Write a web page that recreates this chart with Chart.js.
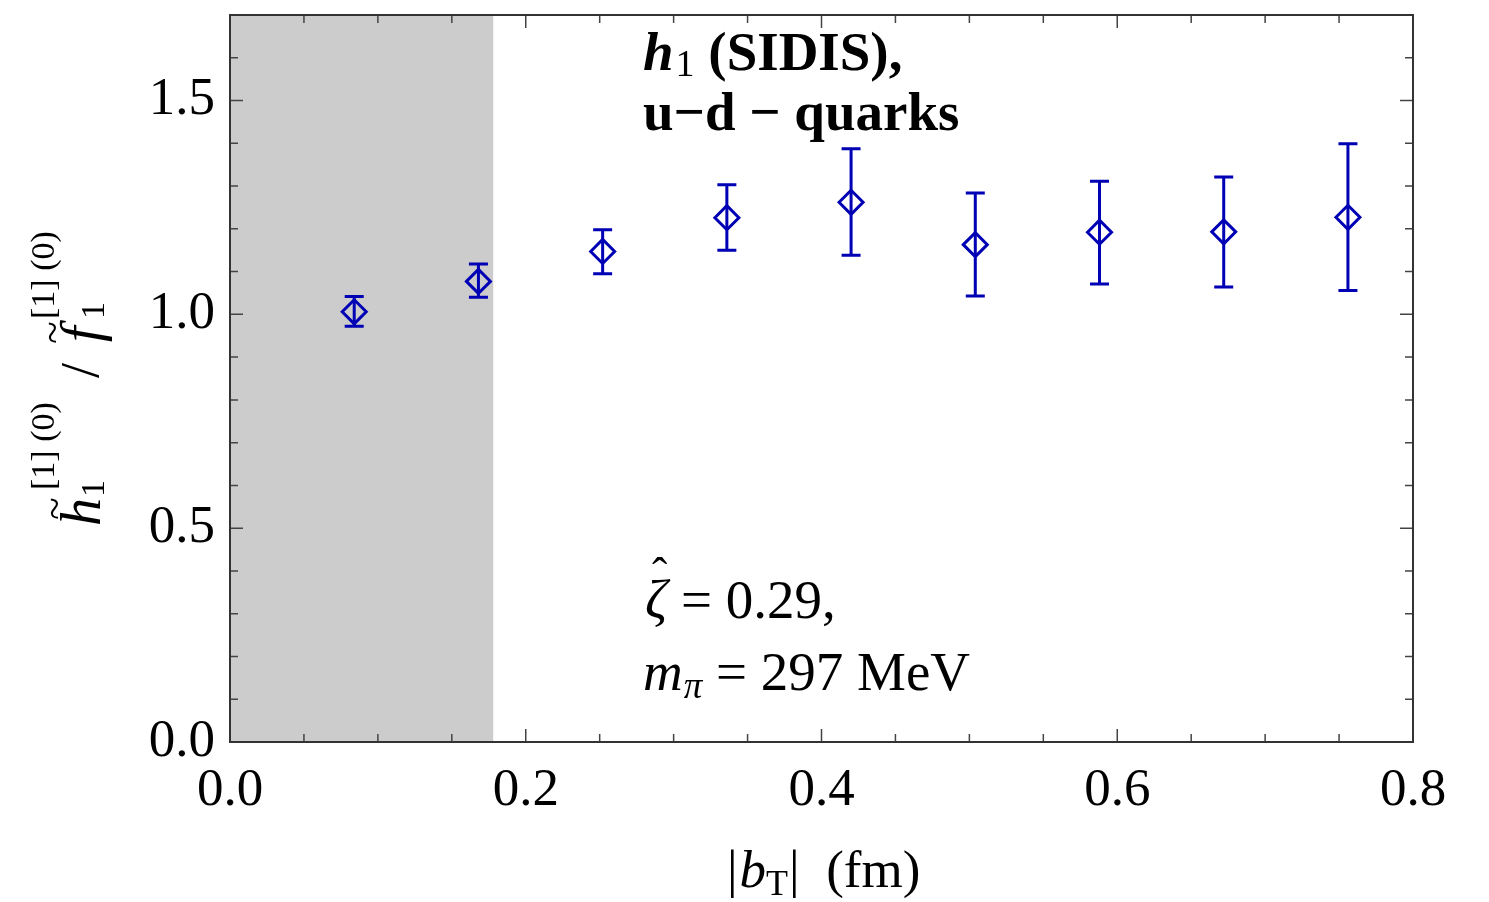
<!DOCTYPE html>
<html>
<head>
<meta charset="utf-8">
<script src="https://cdn.jsdelivr.net/npm/chart.js@4.4.1/dist/chart.umd.min.js"></script>
<style>
  html, body { margin: 0; padding: 0; background: #fff; }
  #wrap { width: 1489px; height: 902px; }
</style>
</head>
<body>
<div id="wrap"><canvas id="grafik"></canvas></div>
<script>
// ---------------------------------------------
// data
// ---------------------------------------------
const bT       = [0.084, 0.168, 0.252, 0.336, 0.420, 0.504, 0.588, 0.672, 0.756];
const ratio    = [1.006, 1.077, 1.147, 1.226, 1.262, 1.163, 1.192, 1.193, 1.227];
const errAtas  = [1.042, 1.118, 1.198, 1.303, 1.387, 1.284, 1.311, 1.321, 1.399];
const errBawah = [0.972, 1.040, 1.095, 1.150, 1.138, 1.043, 1.071, 1.064, 1.056];

// tick labels
const xTicks = [0.0, 0.2, 0.4, 0.6, 0.8];
const yTicks = [0.0, 0.5, 1.0, 1.5];
const xMinor = [0.05, 0.1, 0.15, 0.25, 0.3, 0.35, 0.45, 0.5, 0.55, 0.65, 0.7, 0.75];
const yMinor = [0.1, 0.2, 0.3, 0.4, 0.6, 0.7, 0.8, 0.9, 1.1, 1.2, 1.3, 1.4, 1.6];

// shaded region (small |b_T|)
const batasAbu = [0.0, 0.178];

const BIRU = '#0000b4';
const SERIF = '"Liberation Serif", "DejaVu Serif", serif';

// ---------------------------------------------
// plugin: grey band, frame, inward ticks, error bars, texts
// ---------------------------------------------
const pluginLatar = {
    id: 'latar',
    beforeDatasetsDraw(chart) {
        const { ctx, chartArea: a, scales: { x, y } } = chart;
        ctx.save();
        ctx.fillStyle = '#cccccc';
        const x0 = x.getPixelForValue(batasAbu[0]);
        const x1 = x.getPixelForValue(batasAbu[1]);
        ctx.fillRect(x0, a.top, x1 - x0, a.bottom - a.top);

        // ticks (inward, all four sides)
        ctx.strokeStyle = '#444';
        ctx.lineWidth = 1.5;
        const tick = (vals, len, isX) => {
            vals.forEach(v => {
                ctx.beginPath();
                if (isX) {
                    const px = x.getPixelForValue(v);
                    ctx.moveTo(px, a.bottom); ctx.lineTo(px, a.bottom - len);
                    ctx.moveTo(px, a.top);    ctx.lineTo(px, a.top + len);
                } else {
                    const py = y.getPixelForValue(v);
                    ctx.moveTo(a.left, py);  ctx.lineTo(a.left + len, py);
                    ctx.moveTo(a.right, py); ctx.lineTo(a.right - len, py);
                }
                ctx.stroke();
            });
        };
        tick(xTicks, 13, true);
        tick(xMinor, 8, true);
        tick(yTicks, 13, false);
        tick(yMinor, 8, false);

        // frame
        ctx.strokeStyle = '#333';
        ctx.lineWidth = 2;
        ctx.strokeRect(a.left, a.top, a.right - a.left, a.bottom - a.top);

        // error bars
        ctx.strokeStyle = BIRU;
        ctx.lineWidth = 3;
        bT.forEach((v, i) => {
            const px = x.getPixelForValue(v);
            const pt = y.getPixelForValue(errAtas[i]);
            const pb = y.getPixelForValue(errBawah[i]);
            ctx.beginPath();
            ctx.moveTo(px, pt); ctx.lineTo(px, pb);
            ctx.moveTo(px - 9.5, pt); ctx.lineTo(px + 9.5, pt);
            ctx.moveTo(px - 9.5, pb); ctx.lineTo(px + 9.5, pb);
            ctx.stroke();
        });
        ctx.restore();
    },
    afterDraw(chart) {
        const { ctx } = chart;
        ctx.save();
        ctx.fillStyle = '#000';
        ctx.textBaseline = 'alphabetic';

        const tulis = (teks, px, py, font) => {
            ctx.font = font;
            ctx.fillText(teks, px, py);
            return px + ctx.measureText(teks).width;
        };

        // label top: h1 (SIDIS), u-d - quarks
        let cx = tulis('h', 643, 70, 'italic bold 55px ' + SERIF);
        cx = tulis('1', cx + 2, 76, '38px ' + SERIF);
        tulis(' (SIDIS),', cx, 70, 'bold 55px ' + SERIF);
        tulis('u\u2212d \u2212 quarks', 643, 130, 'bold 55px ' + SERIF);

        // label bottom: zeta hat, m_pi
        cx = tulis('\u03B6', 645, 618, 'italic 55px ' + SERIF);
        tulis('\u02C6', 652, 590, '46px ' + SERIF);
        tulis(' = 0.29,', cx, 618, '55px ' + SERIF);
        cx = tulis('m', 643, 690, 'italic 55px ' + SERIF);
        cx = tulis('\u03C0', cx + 1, 698, 'italic 37px ' + SERIF);
        tulis(' = 297 MeV', cx, 690, '55px ' + SERIF);

        // x axis title
        cx = tulis('|', 727, 887, '53px ' + SERIF);
        cx = tulis('b', cx + 2, 887, 'italic 53px ' + SERIF);
        cx = tulis('T', cx, 895, '36px ' + SERIF);
        tulis('|  (fm)', cx + 1, 887, '53px ' + SERIF);

        // y axis title (rotated)
        ctx.translate(100, 528);
        ctx.rotate(-Math.PI / 2);
        tulis('h', 2, 0, 'italic 56px ' + SERIF);
        tulis('~', 8, -32, '42px ' + SERIF);
        tulis('1', 31, 4, '34px ' + SERIF);
        tulis('[1] (0)', 38, -46, '34px ' + SERIF);
        tulis('/', 150, -2, '54px ' + SERIF);
        tulis('f', 186, 0, 'italic 56px ' + SERIF);
        tulis('~', 184, -34, '42px ' + SERIF);
        tulis('1', 209, 4, '34px ' + SERIF);
        tulis('[1] (0)', 209, -46, '34px ' + SERIF);
        ctx.restore();
    }
};

// ---------------------------------------------
// chart
// ---------------------------------------------
const canvas = document.getElementById('grafik');
const ctx = canvas.getContext('2d');

new Chart(ctx, {
    type: 'scatter',
    data: {
        datasets: [{
            label: 'h1/f1',
            data: bT.map((v, i) => ({ x: v, y: ratio[i] })),
            pointStyle: 'rectRot',
            pointRadius: 12,
            pointHoverRadius: 12,
            pointBorderWidth: 3,
            pointBorderColor: BIRU,
            pointBackgroundColor: 'rgba(0,0,0,0)'
        }]
    },
    options: {
        responsive: true,
        maintainAspectRatio: false,
        animation: false,
        events: [],
        layout: { padding: { top: 12, right: 76, left: 0, bottom: 0 } },
        plugins: {
            legend: { display: false },
            tooltip: { enabled: false }
        },
        scales: {
            x: {
                type: 'linear',
                min: 0, max: 0.8,
                grid: { display: false, drawTicks: false },
                border: { display: false },
                afterBuildTicks: s => { s.ticks = xTicks.map(v => ({ value: v })); },
                afterFit: s => { s.height = 160; s.paddingLeft = 0; s.paddingRight = 0; },
                ticks: {
                    color: '#000',
                    padding: 17,
                    maxRotation: 0,
                    font: { family: SERIF, size: 53 },
                    callback: v => Number(v).toFixed(1)
                }
            },
            y: {
                type: 'linear',
                min: 0, max: 1.7,
                grid: { display: false, drawTicks: false },
                border: { display: false },
                afterBuildTicks: s => { s.ticks = yTicks.map(v => ({ value: v })); },
                afterFit: s => { s.width = 230; s.paddingTop = 0; s.paddingBottom = 0; },
                ticks: {
                    color: '#000',
                    padding: 15,
                    font: { family: SERIF, size: 53 },
                    callback: v => Number(v).toFixed(1)
                }
            }
        }
    },
    plugins: [pluginLatar]
});
</script>
</body>
</html>
